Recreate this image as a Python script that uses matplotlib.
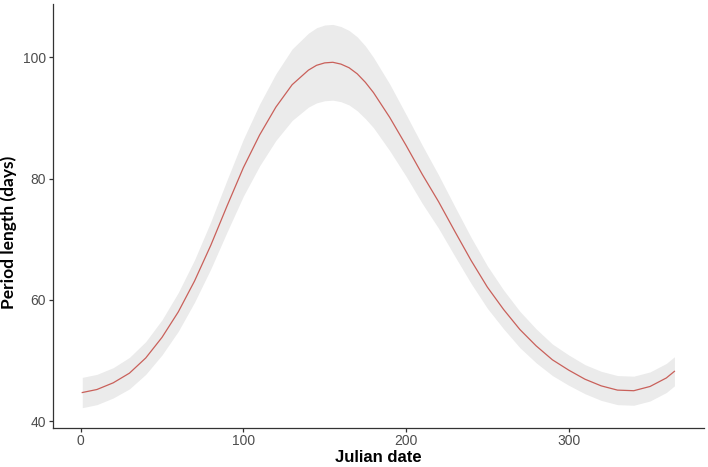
import matplotlib.pyplot as plt
import numpy as np

DPI = 100

# julian day and fitted period length
days = [1, 10, 20, 30, 40, 50, 60, 70, 80, 90, 100, 110, 120, 130, 140, 145, 150,
        155, 160, 165, 170, 175, 180, 190, 200, 210, 220, 230, 240, 250, 260, 270,
        280, 290, 300, 310, 320, 330, 340, 350, 360, 365]
period = [44.7, 45.2, 46.3, 47.9, 50.4, 53.8, 58.0, 63.1, 69.0, 75.5, 81.8, 87.2,
          91.8, 95.5, 97.9, 98.7, 99.1, 99.2, 98.9, 98.3, 97.3, 95.9, 94.2, 90.1,
          85.5, 80.7, 76.2, 71.3, 66.5, 62.1, 58.4, 55.1, 52.4, 50.1, 48.4, 46.9,
          45.8, 45.1, 45.0, 45.7, 47.1, 48.2]
# half width of the confidence band
ci_half = [2.5, 2.5, 2.5, 2.6, 2.7, 2.9, 3.2, 3.5, 3.9, 4.3, 4.7, 5.1, 5.5, 5.9,
           6.1, 6.2, 6.25, 6.25, 6.2, 6.15, 6.1, 6.0, 5.8, 5.5, 5.1, 4.8, 4.4, 4.1,
           3.8, 3.5, 3.2, 3.0, 2.8, 2.6, 2.5, 2.4, 2.4, 2.4, 2.4, 2.4, 2.4, 2.4]

X_TICKS = [0, 100, 200, 300]
Y_TICKS = [40, 60, 80, 100]

if __name__ == '__main__':
    plt.rcParams['font.family'] = ['Liberation Sans', 'DejaVu Sans']
    fig = plt.figure(figsize=(7.08, 4.67), dpi=DPI)
    ax = fig.add_axes([0.0744, 0.0842, 0.92, 0.907])

    x = np.array(days)
    y = np.array(period)
    hw = np.array(ci_half)
    ax.fill_between(x, y - hw, y + hw, color='#ebebeb', linewidth=0)
    ax.plot(x, y, color='#c9605a', linewidth=0.9)

    ax.set_xlim(-17.2, 383.2)
    ax.set_ylim(38.9, 108.8)
    ax.set_xticks(X_TICKS)
    ax.set_yticks(Y_TICKS)

    for side in ['top', 'right']:
        ax.spines[side].set_visible(False)
    for side in ['left', 'bottom']:
        ax.spines[side].set_color('#333333')
        ax.spines[side].set_linewidth(0.9)
    ax.tick_params(colors='#333333', labelcolor='#4d4d4d', labelsize=10,
                   length=3.2, width=0.9, pad=1.5)

    ax.set_xlabel('Julian date', fontsize=12, fontweight='bold', labelpad=1)
    ax.set_ylabel('Period length (days)', fontsize=12.5, fontweight='bold',
                  family=['Lato', 'DejaVu Sans'])
    ax.yaxis.set_label_coords(-0.055, 0.46)

    plt.savefig('out.png', dpi=DPI)
